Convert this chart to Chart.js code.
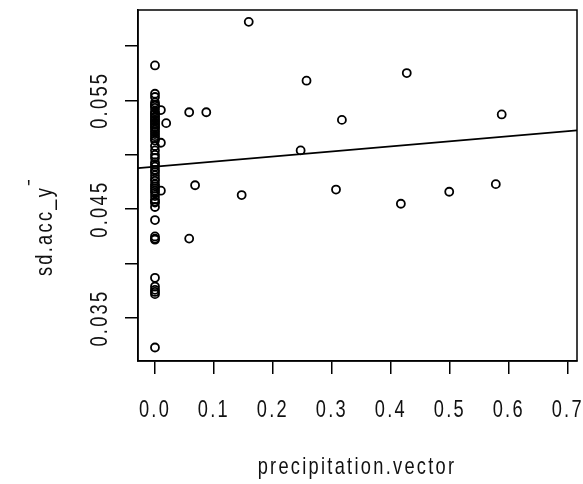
<!DOCTYPE html>
<html lang="en">
<head>
    <meta charset="UTF-8" />
    <title>sd.acc_y vs precipitation.vector</title>
    <script src="https://cdn.jsdelivr.net/npm/chart.js"></script>
    <style>
        body { margin: 0; background: #ffffff; }
        #wrap { width: 583px; height: 484px; }
    </style>
</head>
<body>
<div id="wrap"><canvas id="plot" width="583" height="484"></canvas></div>

<script>
    // data
    const precipX = [
        0, 0, 0, 0, 0, 0, 0, 0, 0, 0,
        0, 0, 0, 0, 0, 0, 0, 0, 0, 0,
        0, 0, 0, 0, 0, 0, 0, 0, 0, 0,
        0, 0, 0, 0, 0, 0, 0, 0, 0, 0,
        0, 0, 0, 0, 0, 0, 0, 0, 0, 0,
        0, 0, 0, 0, 0, 0,
        0.010, 0.019, 0.010, 0.010,
        0.058, 0.087, 0.068, 0.147, 0.159, 0.058,
        0.257, 0.427, 0.317, 0.588, 0.247, 0.307,
        0.417, 0.499, 0.578
    ];
    const sdAccY = [
        0.0582, 0.0556, 0.0553, 0.0548, 0.0545, 0.0543, 0.0540, 0.0537, 0.0534, 0.0532,
        0.0529, 0.0526, 0.0523, 0.0521, 0.0517, 0.0513, 0.0508, 0.0504, 0.0500, 0.0497,
        0.0493, 0.0489, 0.0486, 0.0481, 0.0476, 0.0473, 0.0469, 0.0465, 0.0462, 0.0459,
        0.0456, 0.0452, 0.0440, 0.0425, 0.0423, 0.0387, 0.0379, 0.0376, 0.0372, 0.0323,
        0.0422, 0.0374, 0.0528, 0.0546, 0.0538, 0.0535, 0.0531, 0.0525, 0.0519, 0.0515,
        0.0491, 0.0484, 0.0478, 0.0471, 0.0467, 0.0457,
        0.0541, 0.0529, 0.0511, 0.0467,
        0.0539, 0.0539, 0.0472, 0.0463, 0.0622, 0.0423,
        0.0568, 0.0575, 0.0532, 0.0537, 0.0504, 0.0468,
        0.0455, 0.0466, 0.0473
    ];
    const xTicks = [0.0, 0.1, 0.2, 0.3, 0.4, 0.5, 0.6, 0.7];
    const yTicks = [0.035, 0.040, 0.045, 0.050, 0.055, 0.060];
    const yLabelled = [0.035, 0.045, 0.055];

    // fitted line (abline)
    const fitIntercept = 0.0489;
    const fitSlope = 0.00466;

    const xMin = -0.0288, xMax = 0.7157;
    const yMin = 0.03106, yMax = 0.06329;

    const FONT = '24px "Liberation Sans", Arial, sans-serif';
    const SQUEEZE = 0.76;

    const points = precipX.map((x, i) => ({ x: x, y: sdAccY[i] }));
    const fitLine = [xMin, xMax].map(x => ({ x: x, y: fitIntercept + fitSlope * x }));

    // narrow, spaced text like the old R windows device
    function rLabel(ctx, text, x, y, rotated) {
        ctx.save();
        ctx.translate(x, y);
        if (rotated) ctx.rotate(-Math.PI / 2);
        ctx.scale(SQUEEZE, 1);
        ctx.fillText(text, 0, 0);
        ctx.restore();
    }

    // box + axis text
    const rText = {
        id: 'rText',
        afterDraw(chart) {
            const ctx = chart.ctx;
            const area = chart.chartArea;
            const xs = chart.scales.x, ys = chart.scales.y;
            ctx.save();
            ctx.strokeStyle = '#000';
            ctx.lineWidth = 1.5;
            ctx.strokeRect(area.left, area.top, area.right - area.left, area.bottom - area.top);

            ctx.fillStyle = '#111';
            ctx.font = FONT;
            ctx.letterSpacing = '3px';
            ctx.textAlign = 'center';
            ctx.textBaseline = 'middle';
            xTicks.forEach(v => rLabel(ctx, v.toFixed(1), xs.getPixelForValue(v), 410, false));
            rLabel(ctx, 'precipitation.vector', 357, 467, false);

            yLabelled.forEach(v => rLabel(ctx, v.toFixed(3), 100, ys.getPixelForValue(v), true));
            rLabel(ctx, 'sd.acc_y', 45, 231, true);
            rLabel(ctx, "'", 30, 190, false);
            ctx.restore();
        }
    };

    new Chart(document.getElementById('plot').getContext('2d'), {
        type: 'scatter',
        data: {
            datasets: [
                {
                    data: points,
                    pointStyle: 'circle',
                    pointRadius: 4,
                    pointBorderWidth: 1.8,
                    pointBorderColor: '#000',
                    pointBackgroundColor: 'rgba(0,0,0,0)'
                },
                {
                    type: 'line',
                    data: fitLine,
                    borderColor: '#000',
                    borderWidth: 1.6,
                    pointRadius: 0,
                    fill: false
                }
            ]
        },
        options: {
            responsive: false,
            animation: false,
            layout: { padding: { left: 125, right: 6, top: 10, bottom: 110 } },
            plugins: { legend: { display: false }, tooltip: { enabled: false } },
            scales: {
                x: {
                    type: 'linear', min: xMin, max: xMax,
                    afterBuildTicks: s => { s.ticks = xTicks.map(v => ({ value: v })); },
                    ticks: { display: false, autoSkip: false },
                    grid: { drawOnChartArea: false, drawTicks: true, tickLength: 13, color: '#000', lineWidth: 1.5 },
                    border: { color: '#000', width: 1.5 }
                },
                y: {
                    type: 'linear', min: yMin, max: yMax,
                    afterBuildTicks: s => { s.ticks = yTicks.map(v => ({ value: v })); },
                    ticks: { display: false, autoSkip: false },
                    grid: { drawOnChartArea: false, drawTicks: true, tickLength: 13, color: '#000', lineWidth: 1.5 },
                    border: { color: '#000', width: 1.5 }
                }
            }
        },
        plugins: [rText]
    });
</script>
</body>
</html>
